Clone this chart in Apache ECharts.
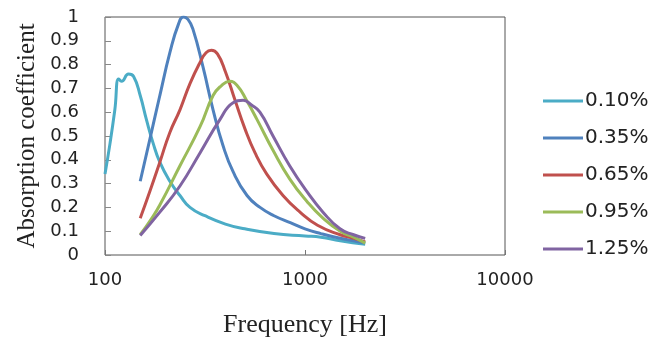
<!DOCTYPE html>
<html>
<head>
<meta charset="utf-8">
<script src="https://cdn.jsdelivr.net/npm/echarts@6/dist/echarts.min.js"></script>
<style>
  html, body { margin: 0; padding: 0; background: #fff; }
  #chart { width: 655px; height: 343px; }
</style>
</head>
<body>
<div id="chart"></div>
<script>
// values: frequency (Hz) and absorption coefficient
const names = ["0.10%", "0.35%", "0.65%", "0.95%", "1.25%"];
const colors = ["#4BACC6", "#4F81BD", "#C0504D", "#9BBB59", "#8064A2"];

const freq010 = [100, 106, 112, 117, 121, 131, 139, 150, 161, 174, 188, 211, 237, 266, 316, 400, 500, 700, 1000, 1200, 1500, 2000];
const abs010 = [0.34, 0.47, 0.61, 0.74, 0.73, 0.76, 0.75, 0.67, 0.57, 0.47, 0.39, 0.31, 0.25, 0.2, 0.165, 0.13, 0.11, 0.09, 0.08, 0.075, 0.06, 0.045];

const freq035 = [150, 168, 188, 211, 233, 247, 260, 275, 309, 347, 389, 437, 513, 596, 700, 850, 1000, 1200, 1500, 1750, 2000];
const abs035 = [0.31, 0.49, 0.67, 0.85, 0.97, 1.0, 0.99, 0.95, 0.79, 0.61, 0.46, 0.35, 0.25, 0.2, 0.165, 0.135, 0.11, 0.09, 0.07, 0.06, 0.05];

const freq065 = [150, 168, 188, 211, 237, 266, 299, 320, 340, 365, 400, 447, 501, 562, 644, 776, 944, 1155, 1500, 1750, 2000];
const abs065 = [0.154, 0.27, 0.39, 0.515, 0.61, 0.72, 0.81, 0.85, 0.86, 0.845, 0.77, 0.65, 0.53, 0.43, 0.34, 0.25, 0.18, 0.125, 0.085, 0.07, 0.055];

const freq095 = [150, 170, 188, 237, 299, 347, 380, 420, 460, 510, 575, 692, 838, 1023, 1230, 1500, 1750, 2000];
const abs095 = [0.085, 0.15, 0.21, 0.375, 0.54, 0.67, 0.71, 0.73, 0.71, 0.65, 0.57, 0.44, 0.32, 0.225, 0.155, 0.1, 0.075, 0.05];

const freq125 = [150, 188, 237, 299, 376, 437, 490, 540, 595, 692, 838, 1023, 1230, 1496, 1750, 2000];
const abs125 = [0.082, 0.18, 0.29, 0.43, 0.57, 0.64, 0.65, 0.63, 0.6, 0.5, 0.375, 0.266, 0.18, 0.11, 0.085, 0.07];

const xTicks = [100, 1000, 10000];

const freqs = [freq010, freq035, freq065, freq095, freq125];
const absorb = [abs010, abs035, abs065, abs095, abs125];

const chart = echarts.init(document.getElementById("chart"));

const series = names.map((name, i) => ({
  name: name,
  type: "line",
  smooth: true,
  showSymbol: false,
  lineStyle: { width: 3, color: colors[i] },
  itemStyle: { color: colors[i] },
  data: freqs[i].map((f, j) => [f, absorb[i][j]]),
}));

const option = {
  animation: false,
  backgroundColor: "#fff",
  grid: {
    left: 105,
    top: 17,
    right: 150,
    bottom: 86,
    show: true,
    borderColor: "#555",
    borderWidth: 1,
  },
  legend: {
    orient: "vertical",
    left: 538,
    top: 86,
    icon: "rect",
    itemWidth: 40,
    itemHeight: 3,
    itemGap: 17,
    textStyle: { fontFamily: "DejaVu Sans", fontSize: 20, color: "#222", padding: [0, 0, 0, -3] },
    data: names,
  },
  xAxis: {
    type: "log",
    logBase: 10,
    min: xTicks[0],
    max: xTicks[xTicks.length - 1],
    name: "Frequency [Hz]",
    nameLocation: "middle",
    nameGap: 57,
    nameTextStyle: { fontFamily: "Liberation Serif", fontSize: 26, color: "#222" },
    axisLine: { show: false },
    axisTick: { show: true, inside: true, length: 5, lineStyle: { color: "#777" } },
    axisLabel: {
      margin: 16,
      fontFamily: "DejaVu Sans",
      fontSize: 18,
      color: "#222",
      formatter: (v) => String(Math.round(v)),
    },
    splitLine: { show: false },
  },
  yAxis: {
    type: "value",
    min: 0,
    max: 1,
    interval: 0.1,
    name: "Absorption coefficient",
    nameLocation: "middle",
    nameGap: 62,
    nameTextStyle: { fontFamily: "Liberation Serif", fontSize: 25, color: "#222" },
    axisLine: { show: false },
    axisTick: { show: true, inside: true, length: 6, lineStyle: { color: "#888" } },
    axisLabel: { margin: 26, fontFamily: "DejaVu Sans", fontSize: 18, color: "#222" },
    splitLine: { show: false },
  },
  series: series,
};

chart.setOption(option);
</script>
</body>
</html>
